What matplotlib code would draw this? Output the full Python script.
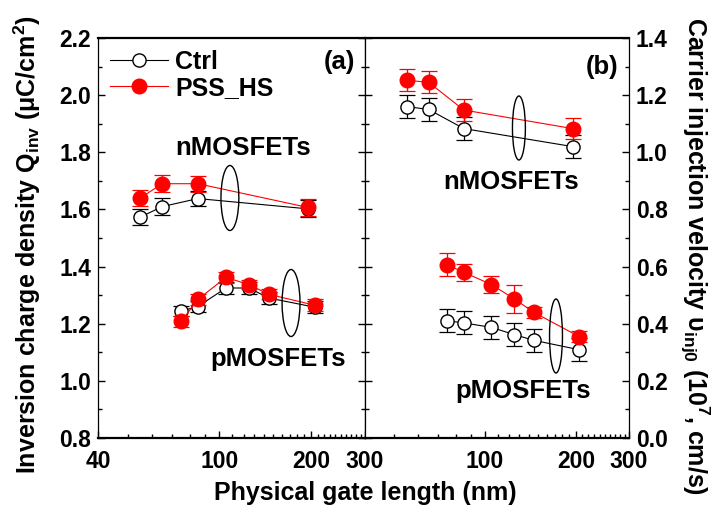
import matplotlib
matplotlib.use("Agg")
import matplotlib.pyplot as plt
from matplotlib.patches import Ellipse
from matplotlib.ticker import FixedLocator, NullFormatter, MultipleLocator, FormatStrFormatter

plt.rcParams['font.family'] = ['Liberation Sans', 'DejaVu Sans']
plt.rcParams['font.weight'] = 'bold'
plt.rcParams['mathtext.fontset'] = 'custom'
plt.rcParams['mathtext.rm'] = 'Liberation Sans:bold'
plt.rcParams['mathtext.it'] = 'Liberation Sans:bold'
plt.rcParams['mathtext.bf'] = 'Liberation Sans:bold'

# ---- data ----
n_len = [55, 65, 85, 195]
p_len = [75, 85, 105, 125, 145, 205]

qinv_n_ctrl = [1.573, 1.610, 1.638, 1.602]
qinv_n_ctrl_err = [0.027, 0.030, 0.027, 0.030]
qinv_n_pss = [1.640, 1.690, 1.690, 1.607]
qinv_n_pss_err = [0.029, 0.029, 0.028, 0.029]
qinv_p_ctrl = [1.245, 1.260, 1.325, 1.325, 1.290, 1.258]
qinv_p_ctrl_err = [0.017, 0.020, 0.020, 0.020, 0.020, 0.022]
qinv_p_pss = [1.208, 1.285, 1.362, 1.337, 1.303, 1.265]
qinv_p_pss_err = [0.020, 0.018, 0.020, 0.016, 0.017, 0.020]

vinj_n_ctrl = [1.160, 1.150, 1.083, 1.020]
vinj_n_ctrl_err = [0.040, 0.040, 0.040, 0.040]
vinj_n_pss = [1.252, 1.245, 1.148, 1.083]
vinj_n_pss_err = [0.038, 0.038, 0.038, 0.038]
vinj_p_ctrl = [0.410, 0.403, 0.387, 0.362, 0.342, 0.309]
vinj_p_ctrl_err = [0.040, 0.040, 0.040, 0.040, 0.040, 0.040]
vinj_p_pss = [0.606, 0.580, 0.537, 0.487, 0.440, 0.355]
vinj_p_pss_err = [0.040, 0.030, 0.030, 0.050, 0.020, 0.018]

x_major_left = [40, 100, 200, 300]
x_major_right = [100, 200, 300]
x_minor = [50, 60, 70, 80, 90, 110, 120, 130, 140, 150, 160, 170, 180, 190,
           210, 220, 230, 240, 250, 260, 270, 280, 290]

RED = '#ff0000'
fig = plt.figure(figsize=(7.18, 5.18), dpi=100)
axL = fig.add_axes([98/718, 80/518, 267/718, 400/518])
axR = fig.add_axes([365/718, 80/518, 264/718, 400/518])

def draw(ax, x, y, e, ctrl, label=None):
    if ctrl:
        ax.errorbar(x, y, yerr=e, fmt='none', ecolor='black', elinewidth=0.9,
                    capsize=6, capthick=0.9, zorder=2)
        ax.plot(x, y, '-o', color='black', lw=0.8, ms=9.5, mfc='white',
                mec='black', mew=1.0, zorder=3, label=label)
    else:
        ax.errorbar(x, y, yerr=e, fmt='none', ecolor=RED, elinewidth=0.9,
                    capsize=6, capthick=0.9, zorder=4)
        ax.plot(x, y, '-o', color=RED, lw=0.8, ms=10.5, mfc=RED,
                mec=RED, mew=1.0, zorder=5, label=label)

draw(axL, n_len, qinv_n_ctrl, qinv_n_ctrl_err, True, 'Ctrl')
draw(axL, n_len, qinv_n_pss, qinv_n_pss_err, False, 'PSS_HS')
draw(axL, p_len, qinv_p_ctrl, qinv_p_ctrl_err, True)
draw(axL, p_len, qinv_p_pss, qinv_p_pss_err, False)

draw(axR, n_len, vinj_n_ctrl, vinj_n_ctrl_err, True)
draw(axR, n_len, vinj_n_pss, vinj_n_pss_err, False)
draw(axR, p_len, vinj_p_ctrl, vinj_p_ctrl_err, True)
draw(axR, p_len, vinj_p_pss, vinj_p_pss_err, False)

for ax, majors in ((axL, x_major_left), (axR, x_major_right)):
    ax.set_xscale('log')
    ax.set_xlim(40, 300)
    ax.xaxis.set_major_locator(FixedLocator(majors))
    ax.xaxis.set_minor_locator(FixedLocator(x_minor))
    ax.xaxis.set_major_formatter(FormatStrFormatter('%d'))
    ax.xaxis.set_minor_formatter(NullFormatter())
    ax.tick_params(axis='both', which='major', direction='in', length=5, width=1.0,
                   labelsize=16.5, pad=5)
    ax.tick_params(axis='both', which='minor', direction='in', length=3, width=1.0)
    ax.tick_params(axis='x', which='major', pad=9)
    ax.tick_params(axis='x', top=False, which='both')
    ax.spines['top'].set_linewidth(1.6)
    ax.spines['bottom'].set_linewidth(1.6)
    ax.spines['left'].set_linewidth(0.9)
    ax.spines['right'].set_linewidth(0.9)
    for lab in ax.get_xticklabels() + ax.get_yticklabels():
        lab.set_fontweight('bold')

axL.set_ylim(0.8, 2.2)
axL.yaxis.set_major_locator(MultipleLocator(0.2))
axL.yaxis.set_minor_locator(MultipleLocator(0.1))
axL.yaxis.set_major_formatter(FormatStrFormatter('%.1f'))
axL.tick_params(axis='y', which='both', left=True, right=True, labelleft=True, labelright=False)

axR.set_ylim(0.0, 1.4)
axR.yaxis.set_major_locator(MultipleLocator(0.2))
axR.yaxis.set_minor_locator(MultipleLocator(0.1))
axR.yaxis.set_major_formatter(FormatStrFormatter('%.1f'))
axR.tick_params(axis='y', which='both', left=True, right=True, labelleft=False, labelright=True)

axL.set_ylabel('Inversion charge density Q$_{inv}$ (μC/cm$^2$)', fontsize=18,
               fontweight='bold')
axL.yaxis.set_label_coords(-0.205, 0.483)
axR.set_ylabel('Carrier injection velocity υ$_{inj0}$ (10$^7$, cm/s)', fontsize=18,
               fontweight='bold', rotation=-90, va='center')
axR.yaxis.set_label_position('right')
axR.yaxis.set_label_coords(1.31, 0.455)

fig.text(365/718, 1 - 493/518, 'Physical gate length (nm)', ha='center', va='center',
         fontsize=18, fontweight='bold')

leg = axL.legend(loc='upper left', bbox_to_anchor=(-0.02, 1.015), frameon=False,
                 fontsize=18, handlelength=2.3, handletextpad=0.3, labelspacing=0.1,
                 borderaxespad=0.3)
for t in leg.get_texts():
    t.set_fontweight('bold')

txt = dict(fontsize=18.5, fontweight='bold', ha='center', va='center')
axL.text(0.543, 0.725, 'nMOSFETs', transform=axL.transAxes, **txt)
axL.text(0.674, 0.198, 'pMOSFETs', transform=axL.transAxes, **txt)
axR.text(0.553, 0.64, 'nMOSFETs', transform=axR.transAxes, **txt)
axR.text(0.598, 0.118, 'pMOSFETs', transform=axR.transAxes, **txt)
axL.text(0.903, 0.94, '(a)', transform=axL.transAxes, **txt)
axR.text(0.898, 0.927, '(b)', transform=axR.transAxes, **txt)

for ax, cx, cy, w, h in ((axL, 0.494, 0.60, 0.067, 0.1625),
                         (axL, 0.723, 0.3375, 0.067, 0.1675),
                         (axR, 0.583, 0.775, 0.049, 0.16),
                         (axR, 0.7235, 0.255, 0.049, 0.185)):
    ax.add_patch(Ellipse((cx, cy), w, h, transform=ax.transAxes, fill=False,
                         edgecolor='black', lw=1.0, zorder=6))

fig.savefig('out.png', dpi=100)
